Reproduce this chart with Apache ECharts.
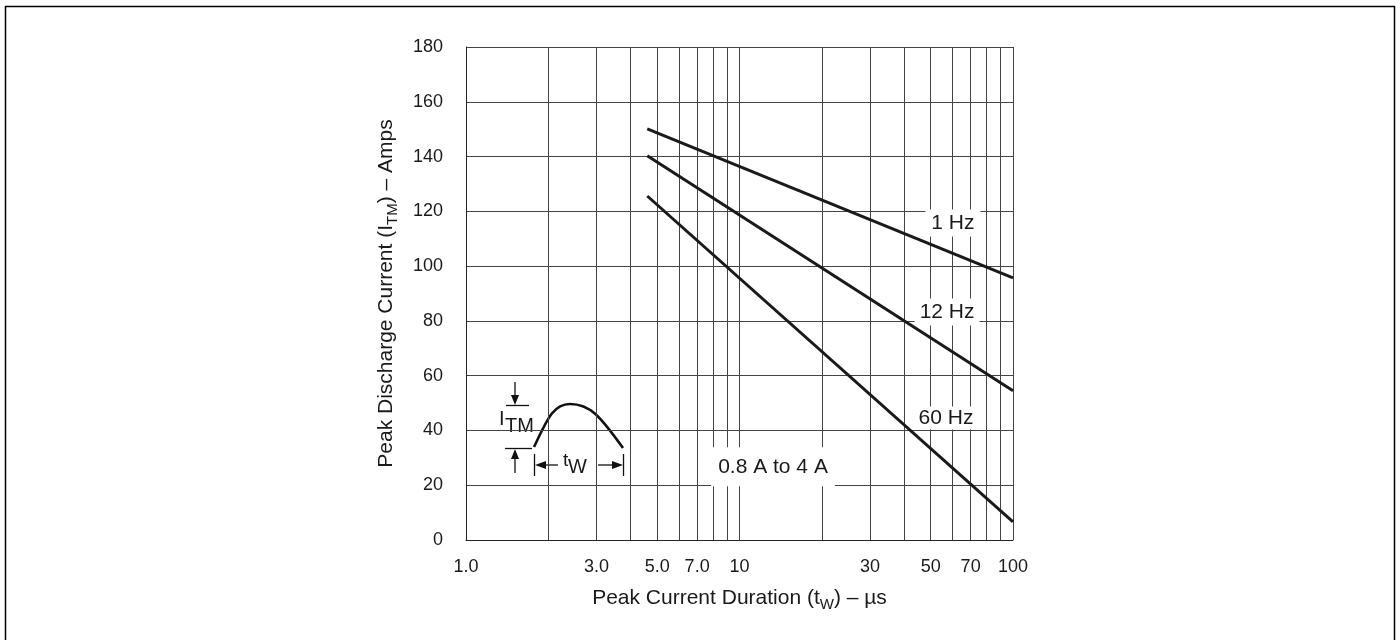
<!DOCTYPE html>
<html>
<head>
<meta charset="utf-8">
<script src="https://cdn.jsdelivr.net/npm/echarts@6/dist/echarts.min.js"></script>
<style>
html,body{margin:0;padding:0;background:#fff;}
#chart{width:1400px;height:640px;}
</style>
</head>
<body>
<div id="chart"></div>
<script>
// ---- data ----
const durations = [4.6, 100];          // peak current duration, µs
const current1Hz = [150.1, 95.7];      // A
const current12Hz = [140.3, 54.5];     // A
const current60Hz = [125.6, 6.6];      // A
const seriesNames = ['1 Hz', '12 Hz', '60 Hz'];
const xGridValues = [1,2,3,4,5,6,7,8,9,10,20,30,40,50,60,70,80,90,100];
const xLabelValues = [1,3,5,7,10,30,50,70,100];
const rangeNote = '0.8 A to 4 A';

const FONT = 'Liberation Sans, Arial, Helvetica, sans-serif';
const TXT = '#1a1a1a';
const GRID = '#444444';
const LINE = '#1a1a1a';

function pairs(xs, ys){ return xs.map((x,i)=>[x, ys[i]]); }

function labelPoint(coord, text, padding){
  return {
    coord: coord,
    symbol: 'rect', symbolSize: [1,1],
    itemStyle: {color: 'rgba(0,0,0,0)'},
    label: {
      show: true, position: 'inside', formatter: text,
      fontFamily: FONT, fontSize: 21, color: TXT, lineHeight: 21,
      backgroundColor: '#fff', padding: padding
    }
  };
}

function lineSeries(name, values, mp){
  return {
    name: name, type: 'line', data: pairs(durations, values),
    symbol: 'none', silent: true, z: 3,
    lineStyle: {color: LINE, width: 3},
    markPoint: {silent: true, animation: false, data: mp}
  };
}

const chart = echarts.init(document.getElementById('chart'), null, {renderer: 'canvas'});

const option = {
  animation: false,
  backgroundColor: '#fff',
  grid: {left: 466, right: 387, top: 47, bottom: 100, containLabel: false},
  xAxis: {
    type: 'log', logBase: 10, min: 1, max: 100,
    axisLine: {show: true, lineStyle: {color: '#222', width: 1}},
    axisTick: {show: false, customValues: xGridValues},
    splitLine: {show: true, lineStyle: {color: GRID, width: 1}},
    minorSplitLine: {show: false},
    axisLabel: {
      customValues: xLabelValues,
      fontFamily: FONT, fontSize: 18, color: TXT, margin: 18,
      showMinLabel: true, showMaxLabel: true,
      formatter: v => (v < 10 ? Number(v).toFixed(1) : String(Math.round(v)))
    },
    name: '{t|Peak Current Duration (t}{s|W}{t|) – µs}',
    nameLocation: 'middle', nameGap: 44,
    nameTextStyle: {
      rich: {
        t: {fontFamily: FONT, fontSize: 21, color: TXT, lineHeight: 28, verticalAlign: 'middle'},
        s: {fontFamily: FONT, fontSize: 15, color: TXT, lineHeight: 15, verticalAlign: 'bottom'}
      }
    }
  },
  yAxis: {
    type: 'value', min: 0, max: 180, interval: 20,
    axisLine: {show: true, lineStyle: {color: '#222', width: 1}},
    axisTick: {show: false},
    splitLine: {show: true, lineStyle: {color: GRID, width: 1}},
    axisLabel: {fontFamily: FONT, fontSize: 18, color: TXT, margin: 23},
    name: '{t|Peak Discharge Current (I}{s|TM}{t|) – Amps}',
    nameLocation: 'middle', nameGap: 66, nameRotate: 90,
    nameTextStyle: {
      rich: {
        t: {fontFamily: FONT, fontSize: 21, color: TXT, lineHeight: 28, verticalAlign: 'middle'},
        s: {fontFamily: FONT, fontSize: 15, color: TXT, lineHeight: 15, verticalAlign: 'bottom'}
      }
    }
  },
  series: [
    lineSeries(seriesNames[0], current1Hz, [labelPoint([60.3, 115.7], seriesNames[0], [3,6,3,6])]),
    lineSeries(seriesNames[1], current12Hz, [labelPoint([57.4, 83.2], seriesNames[1], [3,5,3,5])]),
    lineSeries(seriesNames[2], current60Hz, [
      labelPoint([56.9, 44.5], seriesNames[2], [1,5,1,5]),
      labelPoint([13.26, 26.7], rangeNote, [10,7,8,7])
    ])
  ],
  graphic: [
    // outer frame
    {type: 'rect', silent: true, z: 1,
     shape: {x: 5.5, y: 6.5, width: 1389, height: 660},
     style: {fill: 'none', stroke: '#000', lineWidth: 1.5}},
    // inset diagram of the pulse
    {type: 'group', silent: true, z: 10, children: [
      {type: 'rect', shape: {x: 490, y: 377, width: 155, height: 107}, style: {fill: '#fff'}},
      // I_TM markers
      {type: 'line', shape: {x1: 515, y1: 382, x2: 515, y2: 397}, style: {stroke: '#111', lineWidth: 1.3}},
      {type: 'polygon', shape: {points: [[515,405],[511,395],[519,395]]}, style: {fill: '#111'}},
      {type: 'line', shape: {x1: 506, y1: 405.5, x2: 529, y2: 405.5}, style: {stroke: '#111', lineWidth: 1.3}},
      {type: 'line', shape: {x1: 505, y1: 448.5, x2: 532, y2: 448.5}, style: {stroke: '#111', lineWidth: 1.3}},
      {type: 'polygon', shape: {points: [[515,449],[511,459],[519,459]]}, style: {fill: '#111'}},
      {type: 'line', shape: {x1: 515, y1: 457, x2: 515, y2: 473}, style: {stroke: '#111', lineWidth: 1.3}},
      {type: 'text', style: {x: 499, y: 419, text: 'I', font: '20px ' + FONT, fill: TXT, verticalAlign: 'middle'}},
      {type: 'text', style: {x: 505, y: 426, text: 'TM', font: '20px ' + FONT, fill: TXT, verticalAlign: 'middle'}},
      // pulse
      {type: 'bezierCurve', shape: {x1: 534, y1: 447, cpx1: 547, cpy1: 420, cpx2: 553, cpy2: 404, x2: 570, y2: 404},
       style: {fill: 'none', stroke: '#111', lineWidth: 2.6}},
      {type: 'bezierCurve', shape: {x1: 570, y1: 404, cpx1: 590, cpy1: 404, cpx2: 600, cpy2: 416, x2: 623, y2: 448},
       style: {fill: 'none', stroke: '#111', lineWidth: 2.6}},
      // t_W markers
      {type: 'line', shape: {x1: 534.5, y1: 454, x2: 534.5, y2: 476}, style: {stroke: '#111', lineWidth: 1.3}},
      {type: 'line', shape: {x1: 623.5, y1: 454, x2: 623.5, y2: 476}, style: {stroke: '#111', lineWidth: 1.3}},
      {type: 'polygon', shape: {points: [[535,465],[546,461],[546,469]]}, style: {fill: '#111'}},
      {type: 'line', shape: {x1: 545, y1: 465, x2: 558, y2: 465}, style: {stroke: '#111', lineWidth: 1.3}},
      {type: 'polygon', shape: {points: [[623,465],[612,461],[612,469]]}, style: {fill: '#111'}},
      {type: 'line', shape: {x1: 598, y1: 465, x2: 613, y2: 465}, style: {stroke: '#111', lineWidth: 1.3}},
      {type: 'text', style: {x: 563, y: 461, text: 't', font: '19px ' + FONT, fill: TXT, verticalAlign: 'middle'}},
      {type: 'text', style: {x: 568, y: 467, text: 'W', font: '20px ' + FONT, fill: TXT, verticalAlign: 'middle'}}
    ]}
  ]
};

chart.setOption(option);
</script>
</body>
</html>
